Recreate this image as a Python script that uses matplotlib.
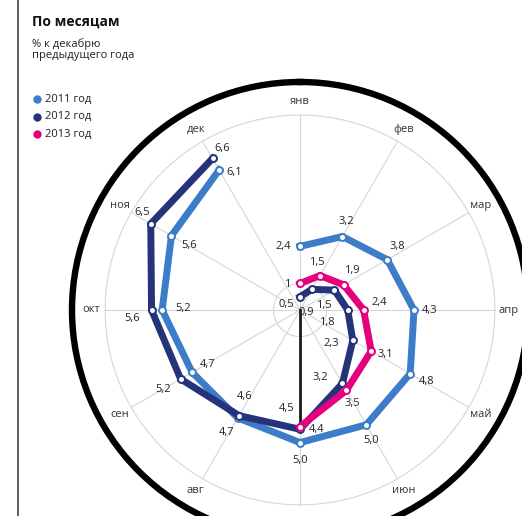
import numpy as np
import matplotlib
matplotlib.use("Agg")
import matplotlib.pyplot as plt
from matplotlib.lines import Line2D

plt.rcParams['font.family'] = ['Open Sans', 'DejaVu Sans']

months = ["янв", "фев", "мар", "апр", "май", "июн",
          "июл", "авг", "сен", "окт", "ноя", "дек"]

vals_2011 = [2.4, 3.2, 3.8, 4.3, 4.8, 5.0, 5.0, 4.7, 4.7, 5.2, 5.6, 6.1]
vals_2012 = [0.5, 0.9, 1.5, 1.8, 2.3, 3.2, 4.5, 4.6, 5.2, 5.6, 6.5, 6.6]
vals_2013 = [1.0, 1.5, 1.9, 2.4, 3.1, 3.5, 4.4]

labels_2011 = ["2,4", "3,2", "3,8", "4,3", "4,8", "5,0", "5,0", "4,7", "4,7", "5,2", "5,6", "6,1"]
labels_2012 = ["0,5", "0,9", "1,5", "1,8", "2,3", "3,2", "4,5", "4,6", "5,2", "5,6", "6,5", "6,6"]
labels_2013 = ["1", "1,5", "1,9", "2,4", "3,1", "3,5", "4,4"]

# label offsets in pixels (dx right, dy up)
off_2011 = [(-17, 0), (4, 15), (10, 13), (16, -1), (16, -8), (5, -16),
            (0, -18), (-11, -15), (16, 8), (21, 2), (18, -10), (15, -3)]
off_2012 = [(-14, -8), (-6, -23), (-11, -15), (-21, -12), (-22, -3), (-22, 6),
            (-13, 21), (6, 19), (-17, -11), (-19, -8), (-9, 11), (10, 10)]
off_2013 = [(-13, -1), (-3, 13), (8, 14), (16, 7), (14, -3), (6, -13), (17, -3)]

c2011 = "#3d7cc9"
c2012 = "#25337a"
c2013 = "#e5007e"

fig = plt.figure(figsize=(5.22, 5.16), dpi=100)
ax = fig.add_axes([72/522, -22/516, 456/522, 456/516], projection='polar')
ax.set_theta_zero_location('N')
ax.set_theta_direction(-1)
ax.set_ylim(0, 8.6)
ax.grid(False)
ax.set_xticks([])
ax.set_yticks([])
ax.spines['polar'].set_linewidth(4.6)
ax.spines['polar'].set_color('black')

theta = np.deg2rad(np.arange(12) * 30)

# grid
circ = np.linspace(0, 2*np.pi, 300)
for r in [1.0, 7.35]:
    ax.plot(circ, [r]*len(circ), color='#d6d6d6', lw=0.8, zorder=1)
for t, m in zip(theta, months):
    ax.plot([t, t], [0, 7.35], color='#d6d6d6', lw=0.8, zorder=1)
    if m == "июл":
        continue  # falls below the picture edge in the original
    ax.text(t, 7.86, m, ha='center', va='center', fontsize=8, color='#333333')

ax.plot([np.pi, np.pi], [0, vals_2013[-1]], color='#1a1a1a', lw=2, zorder=2)

for vals, labs, offs, col in [(vals_2011, labels_2011, off_2011, c2011),
                              (vals_2012, labels_2012, off_2012, c2012),
                              (vals_2013, labels_2013, off_2013, c2013)]:
    th = theta[:len(vals)]
    ax.plot(th, vals, color=col, lw=5, solid_joinstyle='miter',
            marker='o', ms=5, mfc='white', mec=col, mew=1.4, zorder=3)
    for t, v, s, (dx, dy) in zip(th, vals, labs, offs):
        ax.annotate(s, (t, v), xytext=(dx, dy), textcoords='offset pixels',
                    ha='center', va='center', fontsize=8, color='#222222', zorder=5)

# left rule
fig.add_artist(Line2D([18/522, 18/522], [0, 1], transform=fig.transFigure,
                      color='#444444', lw=1.2))

fig.text(32/522, 1 - 22/516, "По месяцам", fontsize=10, fontweight='bold',
         ha='left', va='center', color='#111111')
fig.text(32/522, 1 - 50/516, "% к декабрю\nпредыдущего года", fontsize=8,
         ha='left', va='center', color='#222222', linespacing=1.0)

for i, (lab, col) in enumerate([("2011 год", c2011), ("2012 год", c2012), ("2013 год", c2013)]):
    y = 1 - (99 + 17.5*i)/516
    fig.add_artist(Line2D([37/522], [y], transform=fig.transFigure, marker='o',
                          ms=5, color=col, lw=0))
    fig.text(45/522, y, lab, fontsize=8, ha='left', va='center', color='#222222')

fig.savefig("out.png", dpi=100)
